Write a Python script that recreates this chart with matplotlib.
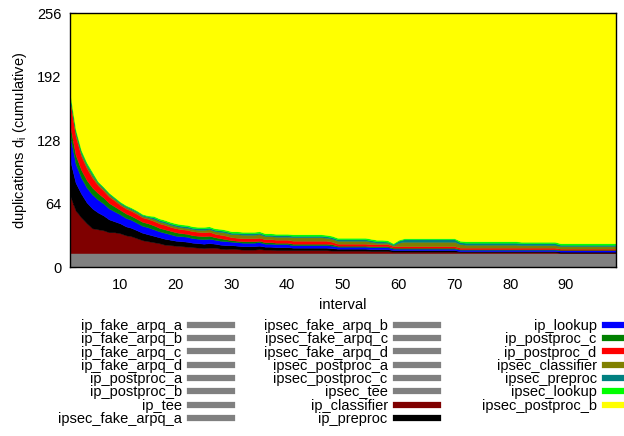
"""
Stacked duplications per interval (cumulative), gnuplot-style look.
"""

import matplotlib
matplotlib.use("Agg")
import matplotlib.pyplot as plt
from matplotlib.lines import Line2D
import numpy as np

plt.rcParams["font.family"] = ["Liberation Sans", "DejaVu Sans"]

INTERVALS = np.arange(1, 100)
TOTAL = 256

# grey layers (constant across all intervals)
GRAY_NAMES = [
    "ip_fake_arpq_a", "ip_fake_arpq_b", "ip_fake_arpq_c", "ip_fake_arpq_d",
    "ip_postproc_a", "ip_postproc_b", "ip_tee", "ipsec_fake_arpq_a",
    "ipsec_fake_arpq_b", "ipsec_fake_arpq_c", "ipsec_fake_arpq_d",
    "ipsec_postproc_a", "ipsec_postproc_c", "ipsec_tee",
]
GRAY_VALUES = [1, 1, 1, 1, 1, 1, 1, 1, 1, 1, 1, 1, 1, 1]

IP_CLASSIFIER = [
    58, 43, 36, 30, 25, 24, 23, 21, 21, 20,
    18, 17, 15, 13, 12, 11, 10, 8.5, 8, 7.5,
    7, 6.5, 6, 5.5, 5, 5.5, 5.5, 4.5, 4, 4.5,
    4, 3.5, 3.5, 3.5, 4, 3.5, 3.5, 3, 3, 3,
    3, 3, 3, 3, 3, 3, 3, 2.5, 2.5, 2.5,
    2.5, 2.5, 2.5, 2.5, 2, 2, 2, 2, 1.5, 1.5,
    1.5, 1.5, 1.5, 1.5, 1.5, 1.5, 1.5, 1.5, 1.5, 1.5,
    1, 1, 1, 1, 1, 1, 1, 1, 1, 1,
    1, 1, 1, 1, 1, 1, 1, 1, 0.5, 0.5,
    0.5, 0.5, 0.5, 0.5, 0.5, 0.5, 0.5, 0.5, 0.5,
]
IP_PREPROC = [
    36, 28, 24, 21, 20, 17, 15, 13, 11, 10,
    9, 8.5, 8, 7.5, 7, 6.5, 6, 6, 5.5, 5,
    5, 5, 4.5, 4.5, 4.5, 4.5, 4, 4, 4, 3.5,
    3.5, 3.5, 3.5, 3.5, 3.5, 3, 3, 3, 3, 3,
    2.5, 2.5, 2.5, 2.5, 2.5, 2.5, 2.5, 2.5, 2, 2,
    2, 2, 2, 2, 2, 2, 2, 2, 1.5, 1.5,
    1.5, 1.5, 1.5, 1.5, 1.5, 1.5, 1.5, 1.5, 1.5, 1.5,
    1, 1, 1, 1, 1, 1, 1, 1, 1, 1,
    1, 1, 1, 1, 1, 1, 1, 1, 1, 1,
    1, 1, 1, 1, 1, 1, 1, 1, 1,
]
IP_LOOKUP = [
    25, 19, 16, 15, 14, 13, 12, 11, 10, 9,
    8.5, 8, 7.5, 7, 7, 6.5, 6, 6, 5.5, 5,
    5, 5, 4.5, 4.5, 4.5, 4.5, 4, 4, 4, 3.5,
    3.5, 3.5, 3.5, 3.5, 3.5, 3, 3, 3, 3, 3,
    2.5, 2.5, 2.5, 2.5, 2.5, 2.5, 2.5, 2.5, 2, 2,
    2, 2, 2, 2, 2, 2, 2, 2, 1.5, 1.5,
    1.5, 1.5, 1.5, 1.5, 1.5, 1.5, 1.5, 1.5, 1.5, 1.5,
    1.5, 1.5, 1.5, 1.5, 1.5, 1.5, 1.5, 1.5, 1.5, 1.5,
    1.5, 1.5, 1.5, 1.5, 1.5, 1.5, 1.5, 1.5, 1.5, 1.5,
    1.5, 1.5, 1.5, 1.5, 1.5, 1.5, 1.5, 1.5, 1.5,
]
IP_POSTPROC_C = [
    10, 9, 8, 7.5, 7, 6.5, 6, 5.5, 5, 4.5,
    4.5, 4, 4, 4, 4, 4, 3.5, 3.5, 3.5, 3.5,
    3, 3, 3, 3, 3, 3, 2.5, 2.5, 2, 1.5,
    1.5, 1.5, 1.5, 1.5, 1.5, 1.5, 1.5, 1.5, 1.5, 1.5,
    1.5, 1.5, 1.5, 1.5, 1.5, 1.5, 1.5, 1.5, 1, 1,
    1, 1, 1, 1, 1, 1, 1, 1, 1, 1,
    1, 1, 1, 1, 1, 1, 1, 1, 1, 1,
    0.5, 0.5, 0.5, 0.5, 0.5, 0.5, 0.5, 0.5, 0.5, 0.5,
    0.5, 0.5, 0.5, 0.5, 0.5, 0.5, 0.5, 0.5, 0.5, 0.5,
    0.5, 0.5, 0.5, 0.5, 0.5, 0.5, 0.5, 0.5, 0.5,
]
IP_POSTPROC_D = [
    25, 19, 14, 12, 10, 8, 7, 6.5, 6, 5,
    5, 5, 5, 4.5, 4.5, 4.5, 4.5, 4.5, 4, 4,
    4, 4, 4, 4, 4, 4, 3.5, 3.5, 3.5, 3,
    3, 3, 3, 3, 3, 3, 3, 3, 3, 3,
    3, 3, 3, 3, 3, 3, 3, 2.5, 2, 2,
    2, 2, 2, 2, 2, 2, 2, 2, 1.5, 1.5,
    1.5, 1.5, 1.5, 1.5, 1.5, 1.5, 1.5, 1.5, 1.5, 1.5,
    1.5, 1.5, 1.5, 1.5, 1.5, 1.5, 1.5, 1.5, 1.5, 1.5,
    1.5, 1.5, 1.5, 1.5, 1.5, 1.5, 1.5, 1.5, 1, 1,
    1, 1, 1, 1, 1, 1, 1, 1, 1,
]
IPSEC_CLASSIFIER = [
    3, 3, 2.5, 2.5, 2.5, 2, 2, 2, 1.5, 1.5,
    1.5, 1.5, 1.5, 1.5, 1.5, 2, 2, 2, 2, 2,
    2, 2, 2, 2, 2.5, 2.5, 2.5, 3, 3, 3,
    3.5, 3.5, 3.5, 3.5, 3.5, 3, 3, 3, 3, 3,
    3.5, 3.5, 3.5, 3.5, 3.5, 3.5, 3, 3, 3, 3,
    3, 3, 3, 3, 2.5, 1.5, 1.5, 1.5, 1, 3.5,
    4.5, 4.5, 4.5, 4.5, 4.5, 4.5, 4.5, 4.5, 4.5, 4.5,
    3.5, 3, 3, 3, 3, 3, 3, 3, 3, 3,
    3, 2.5, 2.5, 2.5, 2.5, 2.5, 2.5, 2.5, 2.5, 2.5,
    2.5, 2.5, 2.5, 2.5, 2.5, 2.5, 2.5, 2.5, 2.5,
]
IPSEC_PREPROC = [
    2, 2, 1.5, 1.5, 1.5, 1, 1, 1, 1, 1,
    1, 1, 1, 1, 1, 1.5, 1.5, 1.5, 1.5, 1.5,
    1.5, 1.5, 1.5, 1.5, 1.5, 1.5, 1.5, 1.5, 1.5, 1.5,
    1.5, 1.5, 1.5, 1.5, 1.5, 1.5, 1.5, 1.5, 1.5, 1.5,
    1.5, 1.5, 1.5, 1.5, 1.5, 1.5, 1.5, 1.5, 1.5, 1.5,
    1.5, 1.5, 1.5, 1.5, 1.5, 1.5, 1.5, 1, 1, 2,
    2.5, 2.5, 2.5, 2.5, 2.5, 2.5, 2.5, 2.5, 2.5, 2.5,
    2, 2, 2, 2, 2, 2, 2, 2, 2, 2,
    2, 2, 2, 2, 2, 2, 2, 2, 1.5, 1.5,
    1.5, 1.5, 1.5, 1.5, 1.5, 1.5, 1.5, 1.5, 1.5,
]
IPSEC_LOOKUP = [
    2, 2, 2, 2, 2, 1, 1, 1, 1, 1,
    1, 1, 1, 1, 1, 1.5, 1.5, 1.5, 1.5, 1.5,
    1.5, 1.5, 1.5, 1.5, 1.5, 1.5, 1.5, 1.5, 1.5, 1.5,
    1.5, 1.5, 1.5, 1.5, 1.5, 1.5, 1.5, 1.5, 1.5, 1.5,
    1.5, 1.5, 1.5, 1.5, 1.5, 1.5, 1.5, 1.5, 1.5, 1.5,
    1.5, 1.5, 1.5, 1.5, 1.5, 1.5, 1.5, 1.5, 1, 1,
    1, 1, 1, 1, 1, 1, 1, 1, 1, 1,
    1.5, 1.5, 1.5, 1.5, 1.5, 1.5, 1.5, 1.5, 1.5, 1.5,
    1.5, 1.5, 1.5, 1.5, 1.5, 1.5, 1.5, 1.5, 1.5, 1.5,
    1.5, 1.5, 1.5, 1.5, 1.5, 1.5, 1.5, 1.5, 1.5,
]

COLOR_NAMES = [
    "ip_classifier", "ip_preproc", "ip_lookup", "ip_postproc_c",
    "ip_postproc_d", "ipsec_classifier", "ipsec_preproc", "ipsec_lookup",
    "ipsec_postproc_b",
]
GRAY = "#808080"
COLORS = ["#7f0000", "#000000", "#0000ff", "#008000", "#ff0000",
          "#808000", "#008080", "#00ff00", "#ffff00"]

gray_series = [np.full(len(INTERVALS), v, dtype=float) for v in GRAY_VALUES]
colored = [IP_CLASSIFIER, IP_PREPROC, IP_LOOKUP, IP_POSTPROC_C, IP_POSTPROC_D,
           IPSEC_CLASSIFIER, IPSEC_PREPROC, IPSEC_LOOKUP]
colored = [np.array(s, dtype=float) for s in colored]
# top layer fills up to the 256 total
ipsec_postproc_b = TOTAL - np.sum(gray_series, axis=0) - np.sum(colored, axis=0)
colored.append(ipsec_postproc_b)

all_series = gray_series + colored
all_colors = [GRAY] * len(gray_series) + COLORS
all_names = GRAY_NAMES + COLOR_NAMES

fig = plt.figure(figsize=(6.24, 4.36), dpi=100)
ax = fig.add_axes([70 / 624, 1 - 267 / 436, 546 / 624, 254 / 436])

ax.stackplot(INTERVALS, *all_series, colors=all_colors,
             edgecolor="face", linewidth=0.3)

ax.set_xlim(1, 99)
ax.set_ylim(0, 256)
ax.set_xticks([10, 20, 30, 40, 50, 60, 70, 80, 90])
ax.set_yticks([0, 64, 128, 192, 256])
ax.set_axisbelow(True)
ax.tick_params(direction="in", length=4, top=True, right=True,
               labelsize=10.5, colors="black")
ax.tick_params(axis="x", pad=8)
ax.tick_params(axis="y", pad=6)
for sp in ax.spines.values():
    sp.set_linewidth(1.0)
    sp.set_zorder(5)

ax.set_xlabel("interval", fontsize=10.5, labelpad=4)
ax.set_ylabel(r"duplications d$_\mathregular{i}$ (cumulative)", fontsize=10.5,
              labelpad=6)

handles = [Line2D([0], [0], color=c, lw=4.5) for c in all_colors]
groups = [(0, 8, 232), (8, 16, 438), (16, 23, 647)]
for start, stop, right_px in groups:
    leg = fig.legend(handles[start:stop], all_names[start:stop],
                     loc="upper right",
                     bbox_to_anchor=(right_px / 624, 1 - 319 / 436),
                     bbox_transform=fig.transFigure,
                     frameon=False, markerfirst=False, fontsize=10.5,
                     handlelength=2.9, handletextpad=0.55,
                     labelspacing=-0.05, borderpad=0, borderaxespad=0)

fig.savefig("out.png", dpi=100)
